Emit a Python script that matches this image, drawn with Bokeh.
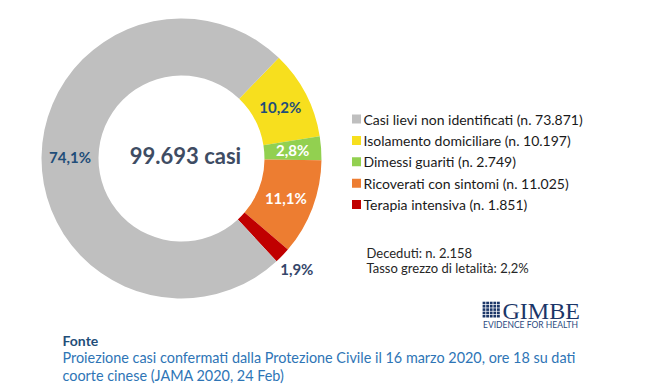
import math
from bokeh.plotting import figure
from bokeh.models import Range1d
from bokeh.core.properties import value
from bokeh.embed import file_html
from bokeh.resources import INLINE

# ---- data ----
categories = ["Casi lievi non identificati", "Isolamento domiciliare", "Dimessi guariti",
              "Ricoverati con sintomi", "Terapia intensiva"]
counts = [73871, 10197, 2749, 11025, 1851]
colors = ["#BFBFBF", "#F7DF1E", "#92D050", "#ED7D31", "#C00000"]
ring_order = [1, 2, 3, 4, 0]  # clockwise from the start angle
total_label = "99.693 casi"
deaths_lines = ["Deceduti: n. 2.158", "Tasso grezzo di letalità: 2,2%"]
source_title = "Fonte"
source_lines = ["Proiezione casi confermati dalla Protezione Civile il 16 marzo 2020, ore 18 su dati",
                "coorte cinese (JAMA 2020, 24 Feb)"]

W, H = 640, 386
FONT = "Lato"


def X(px):
    return px


def Y(py):
    return H - py


def it_num(v):
    return f"{v:,}".replace(",", ".")


def it_pct(f):
    return f"{f * 100:.1f}".replace(".", ",") + "%"


p = figure(width=W, height=H, output_backend="svg", toolbar_location=None,
           x_range=Range1d(0, W), y_range=Range1d(0, H), min_border=0,
           x_axis_location=None, y_axis_location=None)
p.grid.visible = False
p.outline_line_color = None
p.background_fill_color = "white"

# ---- donut ----
cx, cy = X(181), Y(158)
r_out, r_in = 140, 83
total = sum(counts)
start = math.radians(46)
cum = 0.0
starts, ends, cols, mids, fracs, idxs = [], [], [], [], [], []
for i in ring_order:
    f = counts[i] / total
    a0 = start - cum * 2 * math.pi
    a1 = a0 - f * 2 * math.pi
    starts.append(a1)
    ends.append(a0)
    cols.append(colors[i])
    mids.append((a0 + a1) / 2)
    fracs.append(f)
    idxs.append(i)
    cum += f

p.annular_wedge(x=cx, y=cy, inner_radius=r_in, outer_radius=r_out,
                start_angle=starts, end_angle=ends, fill_color=cols,
                line_color=None)

label_style = {0: ("#1F4E79", "bold", 111.5), 1: ("#1F4E79", "bold", 111.5),
               2: ("#FFFFFF", "bold", 111.5), 3: ("#FFFFFF", "bold", 111.5),
               4: ("#34466A", "bold", 160)}
for m, f, i in zip(mids, fracs, idxs):
    c, wgt, rr = label_style[i]
    p.text(x=[cx + rr * math.cos(m)], y=[cy + rr * math.sin(m)], text=[it_pct(f)],
           text_align="center", text_baseline="middle", text_color=c,
           text_font=value(FONT), text_font_style=wgt, text_font_size="15px")

p.text(x=[cx + 4], y=[cy + 3], text=[total_label], text_align="center",
       text_baseline="middle", text_color="#3E4C63", text_font=value(FONT),
       text_font_style="bold", text_font_size="22px")

# ---- legend ----
leg_y = [Y(118.5 + k * 21.4) for k in range(len(categories))]
p.rect(x=[X(356)] * len(categories), y=leg_y, width=9, height=9,
       fill_color=colors, line_color=None)
p.text(x=[X(363)] * len(categories), y=leg_y,
       text=[f"{c} (n. {it_num(v)})" for c, v in zip(categories, counts)],
       text_align="left", text_baseline="middle", text_color="#1A1A1A",
       text_font=value(FONT), text_font_size="14px")

# ---- deaths ----
p.text(x=[X(366)] * 2, y=[Y(252), Y(267)], text=deaths_lines, text_align="left",
       text_baseline="middle", text_color="#262626", text_font=value(FONT),
       text_font_size="13px")

# ---- logo ----
gx, gy = [], []
for r in range(5):
    for c in range(5):
        gx.append(X(483.5 + c * 3.6))
        gy.append(Y(302.5 + r * 3.3))
p.rect(x=gx, y=gy, width=2.8, height=2.6, fill_color="#1B3668", line_color=None)
p.text(x=[X(502)], y=[Y(310)], text=["GIMBE"], text_align="left",
       text_baseline="middle", text_color="#1B3668",
       text_font=value("Liberation Serif"), text_font_size="24px")
p.text(x=[X(530)], y=[Y(324.5)], text=["EVIDENCE FOR HEALTH"], text_align="center",
       text_baseline="middle", text_color="#2C4A80", text_font=value(FONT),
       text_font_size="8.5px")

# ---- source ----
p.text(x=[X(62)], y=[Y(340)], text=[source_title], text_align="left",
       text_baseline="middle", text_color="#1F4E79", text_font=value(FONT),
       text_font_style="bold", text_font_size="14px")
p.text(x=[X(62)] * 2, y=[Y(357), Y(375)], text=source_lines, text_align="left",
       text_baseline="middle", text_color="#2E75B6", text_font=value(FONT),
       text_font_size="14.4px")

open("out.html", "w").write(file_html(p, INLINE))
